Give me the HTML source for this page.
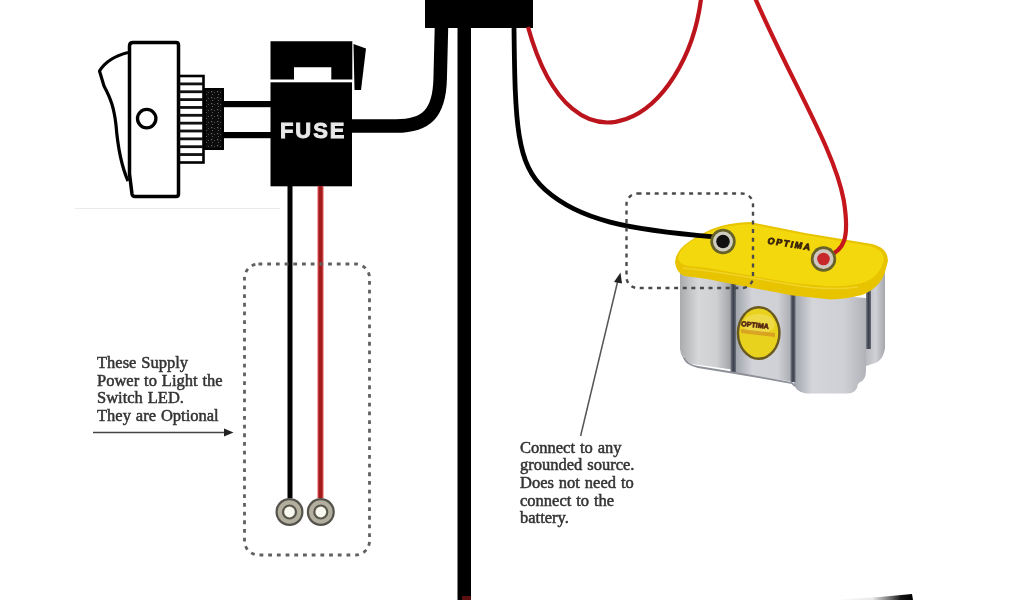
<!DOCTYPE html>
<html><head><meta charset="utf-8">
<style>
html,body{margin:0;padding:0;background:#fff;width:1024px;height:600px;overflow:hidden}
svg{position:absolute;left:0;top:0;filter:blur(0.5px)}
.t{font-family:"Liberation Serif",serif;font-size:16.5px;fill:#333;stroke:#333;stroke-width:0.5;letter-spacing:0;word-spacing:0.8px}
</style></head><body>
<svg width="1024" height="600" viewBox="0 0 1024 600">
<defs>
 <linearGradient id="cyl" x1="0" x2="1" y1="0" y2="0">
  <stop offset="0" stop-color="#a9abad"/>
  <stop offset="0.35" stop-color="#d6d7d9"/>
  <stop offset="0.7" stop-color="#cfd0d2"/>
  <stop offset="1" stop-color="#9fa1a4"/>
 </linearGradient>
 <pattern id="speck" width="6" height="6" patternUnits="userSpaceOnUse">
  <rect width="6" height="6" fill="#0c0c0c"/>
  <rect x="1" y="1" width="1.2" height="1.2" fill="#6a6a6a"/>
  <rect x="4" y="2" width="1" height="1" fill="#505050"/>
  <rect x="2" y="4" width="1" height="1" fill="#5a5a5a"/>
 </pattern>
 <linearGradient id="cyl2" x1="0" x2="1" y1="0" y2="0">
  <stop offset="0" stop-color="#9ea2aa"/>
  <stop offset="0.3" stop-color="#d2d3d8"/>
  <stop offset="0.75" stop-color="#d0d1d6"/>
  <stop offset="1" stop-color="#a8aab0"/>
 </linearGradient>
 <linearGradient id="cyl3" x1="0" x2="1" y1="0" y2="0">
  <stop offset="0" stop-color="#a0a4ac"/>
  <stop offset="0.25" stop-color="#d4d5da"/>
  <stop offset="0.7" stop-color="#cfd0d6"/>
  <stop offset="1" stop-color="#b0b2b8"/>
 </linearGradient>
 <linearGradient id="cyl4" x1="0" x2="1" y1="0" y2="0">
  <stop offset="0" stop-color="#b8bac0"/>
  <stop offset="0.5" stop-color="#d0d1d6"/>
  <stop offset="1" stop-color="#a4a6ac"/>
 </linearGradient>
 <linearGradient id="wedge" x1="832" x2="913" y1="0" y2="0" gradientUnits="userSpaceOnUse">
  <stop offset="0" stop-color="#ffffff"/>
  <stop offset="0.5" stop-color="#e8e8e8"/><stop offset="0.72" stop-color="#707070"/>
  <stop offset="0.85" stop-color="#151515"/>
  <stop offset="1" stop-color="#000"/>
 </linearGradient>
 <linearGradient id="gap" x1="0" x2="1" y1="0" y2="0">
  <stop offset="0" stop-color="#7a7e88"/>
  <stop offset="0.5" stop-color="#3a3e4a"/>
  <stop offset="1" stop-color="#6a6e78"/>
 </linearGradient>
</defs>

<!-- faint line under switch -->
<line x1="75" y1="208.5" x2="280" y2="208.5" stroke="#ebebeb" stroke-width="1.2"/>

<!-- top box -->
<rect x="425" y="0" width="108" height="28" fill="#000"/>

<!-- main vertical thick wire -->
<rect x="457.5" y="27" width="13.5" height="573" fill="#000"/>
<rect x="462" y="596" width="9" height="4" fill="#5a1010"/>

<!-- curved wire from fuse to box -->
<path d="M441.5 26 L440.2 78 C439.5 114 426 126 396 126 L350 126" fill="none" stroke="#000" stroke-width="13.5"/>

<!-- thin black wire to battery -->


<!-- red loop -->
<path d="M528.0 27.0 C573.9 191.7 686.2 117.0 701.0 -1.0" fill="none" stroke="#bc141c" stroke-width="4.2"/>
<!-- red wire to battery -->


<!-- switch rocker -->
<path d="M128 52.5 C114 56 105 62 99.5 71 L104 86 C111 99 114 108 116 125 C118 150 121 165 128 181" fill="none" stroke="#000" stroke-width="3.2" stroke-linejoin="round"/>
<!-- switch body -->
<path d="M133 42.5 L176 42.5 Q178.5 42.5 178.5 45 L178.5 194 Q178.5 196.5 176 196.5 L135 196.5 Q132.5 196.5 132 194 L129.5 174 L129.5 46 Q129.5 42.5 133 42.5 Z" fill="#fff" stroke="#000" stroke-width="3.5"/>
<circle cx="146.7" cy="118.6" r="9.2" fill="none" stroke="#000" stroke-width="3.3"/>

<!-- knurled ring -->
<rect x="179" y="76" width="24.5" height="86.5" fill="#fff" stroke="#000" stroke-width="2.6"/>
<g fill="#111">
 <rect x="179" y="82.50" width="24" height="2.8"/>
 <rect x="179" y="90.35" width="24" height="2.8"/>
 <rect x="179" y="98.20" width="24" height="2.8"/>
 <rect x="179" y="106.05" width="24" height="2.8"/>
 <rect x="179" y="113.90" width="24" height="2.8"/>
 <rect x="179" y="121.75" width="24" height="2.8"/>
 <rect x="179" y="129.60" width="24" height="2.8"/>
 <rect x="179" y="137.45" width="24" height="2.8"/>
 <rect x="179" y="145.30" width="24" height="2.8"/>
 <rect x="179" y="153.15" width="24" height="2.8"/>
</g>
<!-- nut -->
<rect x="204" y="88" width="20" height="62" fill="url(#speck)"/>
<rect x="205" y="89" width="18" height="60" fill="none" stroke="#000" stroke-width="2"/>
<!-- wires switch to fuse -->
<rect x="223" y="101" width="49" height="6.2" fill="#000"/>
<rect x="223" y="132" width="49" height="6.2" fill="#000"/>

<!-- fuse -->
<path d="M270.5 41.3 H352.3 V79.5 H331.3 V67.3 H294 V79.5 H270.5 Z" fill="#000"/>
<rect x="270.5" y="82.3" width="81.5" height="104" fill="#000"/>
<path d="M353.5 44 L366 48.5 L361 90 L354.5 90 Z" fill="#000"/>
<text x="280" y="138" font-family="Liberation Sans, sans-serif" font-weight="bold" font-size="22px" letter-spacing="1.9" fill="#e8e8e8" stroke="#e8e8e8" stroke-width="0.9">FUSE</text>

<!-- fuse lower wires -->
<rect x="287.5" y="186" width="5" height="312" fill="#000"/>
<rect x="317.5" y="186" width="6" height="312" fill="#e05050"/>
<rect x="318.6" y="186" width="3.8" height="312" fill="#a01c1c"/>

<!-- dashed box left -->
<rect x="244.5" y="264" width="125" height="291" rx="14" ry="14" fill="none" stroke="#606060" stroke-width="2.8" stroke-dasharray="3.8 4.9"/>

<!-- terminals left -->
<g>
 <circle cx="289.5" cy="512" r="14" fill="#55524b"/>
 <circle cx="289.5" cy="512" r="11.8" fill="#b3af9f"/>
 <circle cx="289.5" cy="512" r="7.6" fill="#58554d"/>
 <circle cx="289.5" cy="512" r="5.4" fill="#f8f8ee"/>
 <circle cx="320.8" cy="512" r="14" fill="#55524b"/>
 <circle cx="320.8" cy="512" r="11.8" fill="#b3af9f"/>
 <circle cx="320.8" cy="512" r="7.6" fill="#58554d"/>
 <circle cx="320.8" cy="512" r="5.4" fill="#f8f8ee"/>
</g>

<!-- left text -->
<text class="t" x="97" y="368.3">These Supply</text>
<text class="t" x="97" y="385.8">Power to Light the</text>
<text class="t" x="97" y="403.3">Switch LED.</text>
<text class="t" x="97" y="420.8">They are Optional</text>
<line x1="93" y1="432.5" x2="226" y2="432.5" stroke="#444" stroke-width="1.6"/>
<path d="M224 428.5 L233.5 432.5 L224 436.5 Z" fill="#222"/>

<!-- battery body -->
<g>
 <path d="M680 268 L732 276 L732 369.5 L692 364 Q681 361 680 349 Z" fill="url(#cyl)"/>
 <path d="M735 280 L792 290 L792 381.5 L740 374.5 Q736 374 735 370 Z" fill="url(#cyl2)"/>
 <path d="M794 292 L866 298 L866 370 Q866 380 860 382 L858 384 Q857 393 848 393.5 L806 393.5 Q795 392 794 383 Z" fill="url(#cyl3)"/>
 <path d="M866 290 L885 272 L885 348 Q883 362 872 364 L866 366 Z" fill="url(#cyl4)"/>
 <rect x="730.5" y="280" width="5.5" height="92" fill="url(#gap)"/>
 <rect x="790.5" y="292" width="5" height="90" fill="url(#gap)"/>
 <rect x="866" y="290" width="5" height="59" fill="url(#gap)"/>
 <path d="M684 358 Q687 365 698 367 L735 373 L792 383 L795 386" fill="none" stroke="#8e9098" stroke-width="1.8"/>
 <!-- logo -->
 <ellipse cx="758.7" cy="333" rx="22" ry="27" fill="#6a5a20"/>
 <ellipse cx="758.7" cy="333" rx="19.5" ry="24.5" fill="#e9d21e"/>
 <ellipse cx="758.7" cy="324" rx="16" ry="10" fill="#f1e060" opacity="0.6"/>
 <path d="M741 329 L775 333 L775 337 L741 333 Z" fill="#d09020" opacity="0.7"/>
 <text x="0" y="0" transform="translate(741,326) rotate(6)" font-family="Liberation Sans, sans-serif" font-weight="bold" font-size="7px" letter-spacing="0.1" fill="#5a2a14" stroke="#5a2a14" stroke-width="0.7">OPTIMA</text>
</g>
<!-- battery lid -->
<path d="M675 262 Q676 250 690 241 Q700 234 712 229 Q726 223 750 222 L805 233 L872 244 Q888 248 888 261 L885 272 Q880 288 862 295 Q846 299 831 299.5 L793 295.5 L752.8 288 L707 279 L684 276 Q676 272 675 262 Z" fill="#e8c400"/>
<path d="M678 258 Q680 248 692 241 Q702 234 714 230 Q728 225 750 224 L805 235 L870 246 Q884 250 884 260 L881 268 Q874 281 858 284 Q842 287 826 286 L793 283 L753 276 L708 268 L688 266 Q679 264 678 258 Z" fill="#f4d80e"/>
<path d="M683 268 Q720 272 753 278 L793 285 Q830 291 858 287" fill="none" stroke="#f8e450" stroke-width="1.5" opacity="0.5"/>

<path d="M514.0 27.0 C515.0 124.0 516.4 164.5 545.2 189.8 C579.5 220.4 627.7 229.6 714.0 236.8" fill="none" stroke="#000" stroke-width="4.8"/>
<path d="M755.5 -1.0 C791.8 82.4 834.5 149.6 843.8 200.5 C849.8 238.5 844.6 250.5 826.0 257.0" fill="none" stroke="#c4161c" stroke-width="4.2"/>
<!-- battery terminals -->
<circle cx="723" cy="241.5" r="12.7" fill="#66622a"/>
<circle cx="723" cy="241.5" r="10" fill="#cfcdc0"/>
<circle cx="723" cy="241.5" r="6.8" fill="#111"/>
<circle cx="823.5" cy="259" r="12.7" fill="#66622a"/>
<circle cx="823.5" cy="259" r="10" fill="#cfc7c0"/>
<circle cx="823.5" cy="259" r="6.3" fill="#c8282a"/>
<!-- OPTIMA logo on lid -->
<text x="0" y="0" transform="translate(767,243.5) rotate(9) skewX(-6)" font-family="Liberation Sans, sans-serif" font-weight="bold" font-size="9px" letter-spacing="1.6" fill="#3a2408" stroke="#3a2408" stroke-width="0.8">OPTIMA</text>

<!-- dashed box battery -->
<rect x="626.5" y="193.5" width="126.5" height="94.5" rx="11" ry="11" fill="none" stroke="#4a4a4a" stroke-width="2.4" stroke-dasharray="4 4.6"/>

<!-- right arrow -->
<line x1="580.6" y1="436" x2="618" y2="280" stroke="#555" stroke-width="1.5"/>
<path d="M614 282 L620.5 272.5 L622 283.5 Z" fill="#222"/>

<!-- right text -->
<text class="t" x="520" y="452.5">Connect to any</text>
<text class="t" x="520" y="470">grounded source.</text>
<text class="t" x="520" y="488">Does not need to</text>
<text class="t" x="520" y="505.5">connect to the</text>
<text class="t" x="520" y="523">battery.</text>

<!-- bottom right wedge -->
<path d="M832 600 L880 597 L912 594 L913 600 Z" fill="url(#wedge)"/>
</svg>
</body></html>
